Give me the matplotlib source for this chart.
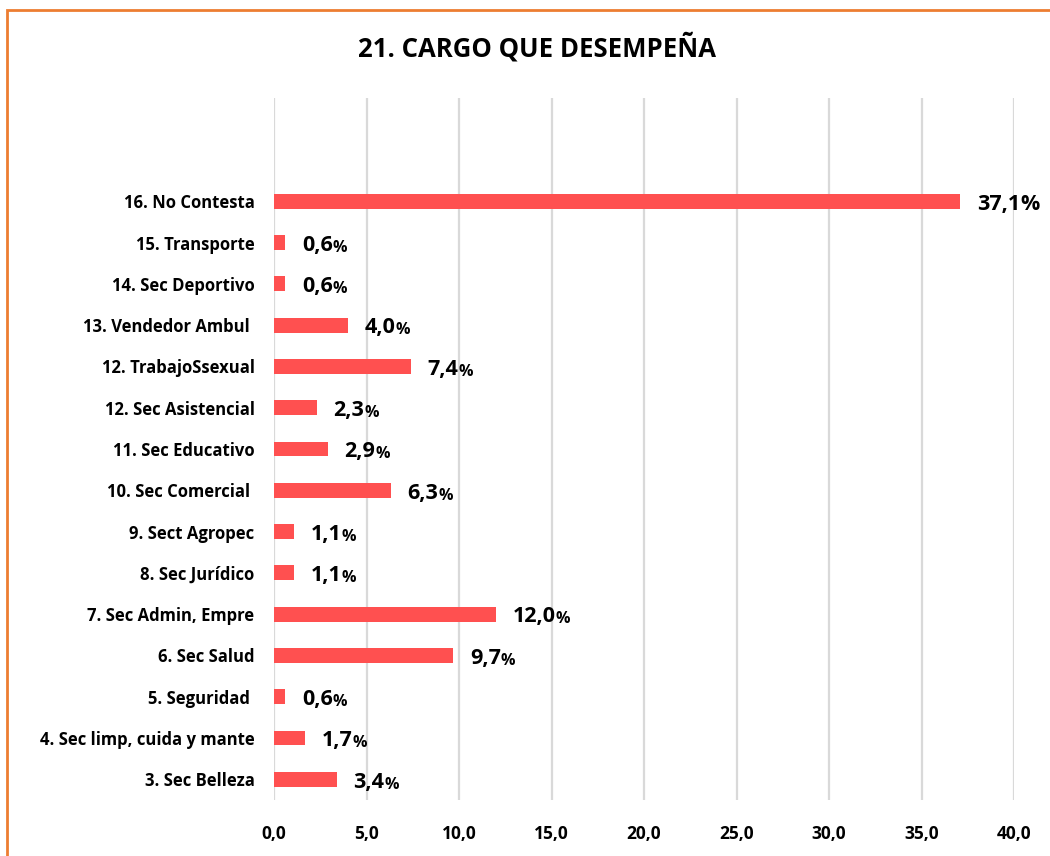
import matplotlib
matplotlib.use("Agg")
import matplotlib.pyplot as plt
from matplotlib.patches import Rectangle

plt.rcParams["font.family"] = ["Open Sans", "DejaVu Sans"]

categories = [
    "3. Sec Belleza",
    "4. Sec limp, cuida y mante",
    "5. Seguridad ",
    "6. Sec Salud",
    "7. Sec Admin, Empre",
    "8. Sec Jurídico",
    "9. Sect Agropec",
    "10. Sec Comercial ",
    "11. Sec Educativo",
    "12. Sec Asistencial",
    "12. TrabajoSsexual",
    "13. Vendedor Ambul ",
    "14. Sec Deportivo",
    "15. Transporte",
    "16. No Contesta",
]
values = [3.4, 1.7, 0.6, 9.7, 12.0, 1.1, 1.1, 6.3, 2.9, 2.3, 7.4, 4.0, 0.6, 0.6, 37.1]
xticks = [0, 5, 10, 15, 20, 25, 30, 35, 40]

bar_color = "#FF5050"
grid_color = "#D9D9D9"
border_color = "#ED7D31"

W, H = 1050, 856
fig = plt.figure(figsize=(W / 100, H / 100), dpi=100)
ax = fig.add_axes([274 / W, 1 - 800 / H, (1014 - 274) / W, (800 - 98) / H])

ypos = list(range(len(categories)))
ax.barh(ypos, values, height=0.36, color=bar_color, zorder=3)

ax.set_xlim(0, 40)
ax.set_ylim(-0.5, len(categories) + 1.5)
ax.set_xticks(xticks)
ax.set_xticklabels([f"{t:.1f}".replace(".", ",") for t in xticks],
                   fontsize=12.5, fontweight="bold")
ax.set_yticks(ypos)
ax.set_yticklabels(categories, fontsize=12, fontweight="bold")
ax.tick_params(axis="both", length=0)
ax.tick_params(axis="y", pad=14)
ax.tick_params(axis="x", pad=18)
ax.grid(axis="x", color=grid_color, linewidth=1.6, zorder=0)
for s in ax.spines.values():
    s.set_visible(False)

vmax = max(values)
for y, v in zip(ypos, values):
    t = ax.annotate(f"{v:.1f}".replace(".", ","), xy=(v, y), xytext=(12, -2),
                    textcoords="offset points", va="center", ha="left",
                    fontsize=15.5, fontweight="bold")
    ax.annotate("%", xy=(1, 0), xycoords=t, va="bottom", ha="left",
                fontsize=15.5 if v == vmax else 11.5, fontweight="bold")

fig.text(537 / W, 1 - 48 / H, "21. CARGO QUE DESEMPEÑA", ha="center", va="center",
         fontsize=18.5, fontweight="bold")

fig.patches.append(Rectangle((7 / W, -0.05), 1.1, 1 - 10 / H + 0.05,
                             transform=fig.transFigure, fill=False,
                             edgecolor=border_color, linewidth=2))

fig.savefig("out.png", dpi=100)
